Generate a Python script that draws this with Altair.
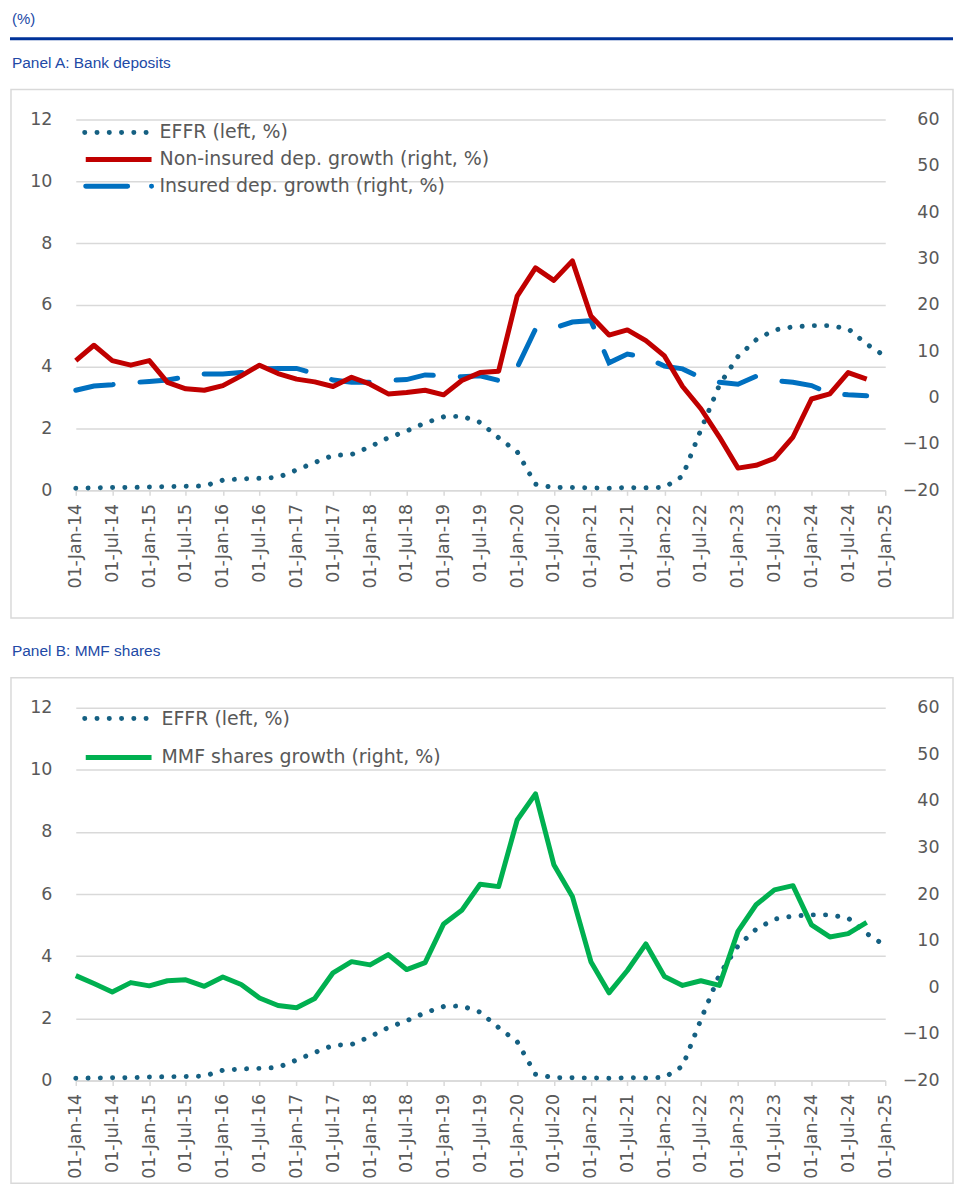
import altair as alt
import pandas as pd

# ---------------- data (quarterly) ----------------
quarters = [f"{y}/{m:02d}/01" for y in range(2014, 2025) for m in (1, 4, 7, 10)] + ["2025/01/01"]
dates_effr = quarters                 # 45 points, Jan-14 .. Jan-25
dates_growth = quarters[:44]          # 44 points, Jan-14 .. Oct-24

effr = [0.07, 0.08, 0.09, 0.09, 0.11, 0.12, 0.13, 0.14,
        0.33, 0.37, 0.39, 0.42, 0.66, 0.90, 1.13, 1.16,
        1.41, 1.70, 1.92, 2.18, 2.38, 2.40, 2.20, 1.70,
        1.25, 0.20, 0.09, 0.09, 0.08, 0.07, 0.09, 0.08,
        0.10, 0.46, 1.96, 3.41, 4.33, 4.87, 5.19, 5.29,
        5.33, 5.33, 5.23, 4.73, 4.34]

non_insured = [8.0, 11.3, 8.0, 7.0, 8.0, 3.3, 1.9, 1.6,
               2.6, 4.7, 7.0, 5.2, 4.0, 3.4, 2.4, 4.4,
               2.9, 0.8, 1.1, 1.6, 0.6, 3.7, 5.4, 5.7,
               21.9, 28.0, 25.3, 29.5, 17.6, 13.5, 14.6, 12.3,
               9.0, 2.4, -2.4, -8.5, -15.2, -14.6, -13.1, -8.5,
               -0.3, 0.8, 5.4, 4.0]

insured = [1.6, 2.5, 2.8, 3.2, 3.5, 3.8, 4.5, 5.1,
           5.1, 5.4, 6.2, 6.3, 6.3, 5.2, 3.8, 3.3,
           3.3, 3.7, 3.9, 4.9, 4.7, 4.5, 4.7, 3.7,
           6.5, 14.8, 15.0, 16.3, 16.6, 7.5, 9.4, 8.7,
           6.8, 6.2, 4.3, 3.3, 2.9, 4.6, 3.7, 3.3,
           2.6, 0.9, 0.6, 0.4]

mmf = [2.5, 0.8, -1.0, 1.0, 0.3, 1.4, 1.6, 0.2,
       2.2, 0.6, -2.3, -3.9, -4.4, -2.4, 3.1, 5.5,
       4.8, 7.0, 3.8, 5.3, 13.6, 16.5, 22.1, 21.6,
       35.9, 41.5, 26.3, 19.5, 5.5, -1.2, 3.6, 9.3,
       2.3, 0.4, 1.4, 0.4, 12.0, 17.7, 20.9, 21.8,
       13.4, 10.8, 11.5, 13.9]

left_ticks = [0, 2, 4, 6, 8, 10, 12]
right_ticks = [-20, -10, 0, 10, 20, 30, 40, 50, 60]

lbl_effr = "EFFR (left, %)"
lbl_non = "Non-insured dep. growth (right, %)"
lbl_ins = "Insured dep. growth (right, %)"
lbl_mmf = "MMF shares growth (right, %)"

# ---------------- styles ----------------
FONT = "DejaVu Sans"
HFONT = "Liberation Sans"
TXT = "#595959"
GRID = "#d9d9d9"
HBLUE = "#2149a6"
C_EFFR = "#156082"
C_RED = "#C00000"
C_BLUE = "#0070C0"
C_GREEN = "#00B050"
W = 812
RIGHT = 880   # right edge of frame / header rule, relative to plot origin

df_effr = pd.DataFrame({"date": dates_effr, "v": effr})
df_non = pd.DataFrame({"date": dates_growth, "v": non_insured})
df_ins = pd.DataFrame({"date": dates_growth, "v": insured})
df_mmf = pd.DataFrame({"date": dates_growth, "v": mmf})
dummy = pd.DataFrame({"a": [0]})

x_vals = [alt.DateTime(year=y, month=m, date=1) for y in range(2014, 2025) for m in (1, 7)]
x_vals.append(alt.DateTime(year=2025, month=1, date=1))

x_enc = alt.X(
    "date:T",
    scale=alt.Scale(domain=[alt.DateTime(year=2014, month=1, date=1),
                            alt.DateTime(year=2025, month=1, date=1)], nice=False),
    axis=alt.Axis(values=x_vals, format="%d-%b-%y", labelAngle=270,
                  labelOverlap=False, labelFlush=False, labelFontSize=17.5,
                  labelColor=TXT, labelFont=FONT, labelPadding=8,
                  tickSize=5, tickColor=GRID, tickWidth=1.5,
                  domainColor=GRID, domainWidth=1.5, grid=False, title=None),
)


def y_left():
    return alt.Y("v:Q", scale=alt.Scale(domain=[0, 12], nice=False),
                 axis=alt.Axis(orient="left", values=left_ticks, grid=True,
                               gridColor=GRID, gridWidth=1.5, domain=False,
                               ticks=False, tickSize=0, labelPadding=24,
                               labelFontSize=17.5, labelColor=TXT, labelFont=FONT,
                               title=None))


def y_right():
    return alt.Y("v:Q", scale=alt.Scale(domain=[-20, 60], nice=False),
                 axis=alt.Axis(orient="right", values=right_ticks, grid=False,
                               domain=False, ticks=False, tickSize=0,
                               labelAlign="right", labelPadding=54,
                               labelFontSize=17.5, labelColor=TXT, labelFont=FONT,
                               title=None))


def text(label, x, y, size, color, font):
    return alt.Chart(dummy).mark_text(text=label, align="left", baseline="middle",
                                      fontSize=size, color=color, font=font).encode(
        x=alt.value(x), y=alt.value(y))


def rule(x1, x2, y, color, width, dash=None, cap="butt"):
    kw = dict(color=color, strokeWidth=width, strokeCap=cap)
    if dash is not None:
        kw["strokeDash"] = dash
    return alt.Chart(dummy).mark_rule(**kw).encode(
        x=alt.value(x1), x2=alt.value(x2), y=alt.value(y))


def box(bottom):
    return alt.Chart(dummy).mark_rect(fillOpacity=0, stroke=GRID, strokeWidth=1.5).encode(
        x=alt.value(-65), x2=alt.value(RIGHT), y=alt.value(-30), y2=alt.value(bottom))


def anchor(y):
    return alt.Chart(dummy).mark_rect(color="white").encode(
        x=alt.value(-66), x2=alt.value(-65), y=alt.value(y), y2=alt.value(y + 1))


DOT = [0.01, 12.3]
DASH_PLOT = [38, 27]

effr_line = alt.Chart(df_effr).mark_line(color=C_EFFR, strokeWidth=5, strokeCap="round",
                                         strokeDash=DOT).encode(x=x_enc, y=y_left())

# ---------------- Panel A ----------------
red_line = alt.Chart(df_non).mark_line(color=C_RED, strokeWidth=5, strokeJoin="round").encode(
    x=x_enc, y=y_right())
blue_line = alt.Chart(df_ins).mark_line(color=C_BLUE, strokeWidth=5, strokeCap="round",
                                        strokeDash=DASH_PLOT).encode(x=x_enc, y=y_right())

panelA = alt.layer(
    anchor(-110),
    box(500),
    text("(%)", -64, -101, 15, HBLUE, HFONT),
    rule(-66, RIGHT, -81, "#003299", 3),
    text("Panel A: Bank deposits", -64, -57, 15.5, HBLUE, HFONT),
    effr_line,
    alt.layer(blue_line, red_line),
    rule(9, 72, 13, C_EFFR, 5, DOT, "round"),
    text(lbl_effr, 84, 13, 19, TXT, FONT),
    rule(10, 76, 40, C_RED, 5),
    text(lbl_non, 84, 40, 19, TXT, FONT),
    rule(10, 80, 67, C_BLUE, 5, [42, 24, 0.01, 100], "round"),
    text(lbl_ins, 84, 67, 19, TXT, FONT),
).resolve_scale(y="independent").properties(width=W, height=372)

# ---------------- Panel B ----------------
green_line = alt.Chart(df_mmf).mark_line(color=C_GREEN, strokeWidth=5, strokeJoin="round").encode(
    x=x_enc, y=y_right())

panelB = alt.layer(
    anchor(-79),
    box(477),
    text("Panel B: MMF shares", -64, -57, 15.5, HBLUE, HFONT),
    effr_line,
    alt.layer(green_line),
    rule(9, 72, 11, C_EFFR, 5, DOT, "round"),
    text(lbl_effr, 86, 11, 19, TXT, FONT),
    rule(10, 76, 50, C_GREEN, 5),
    text(lbl_mmf, 86, 50, 19, TXT, FONT),
).resolve_scale(y="independent").properties(width=W, height=374)

chart = alt.vconcat(panelA, panelB, spacing=10).properties(
    padding={"left": 0, "top": 0, "right": 0, "bottom": 0}, background="white"
).configure_view(stroke=None)

chart.save("out.html", embed_options={"renderer": "svg", "actions": False})
